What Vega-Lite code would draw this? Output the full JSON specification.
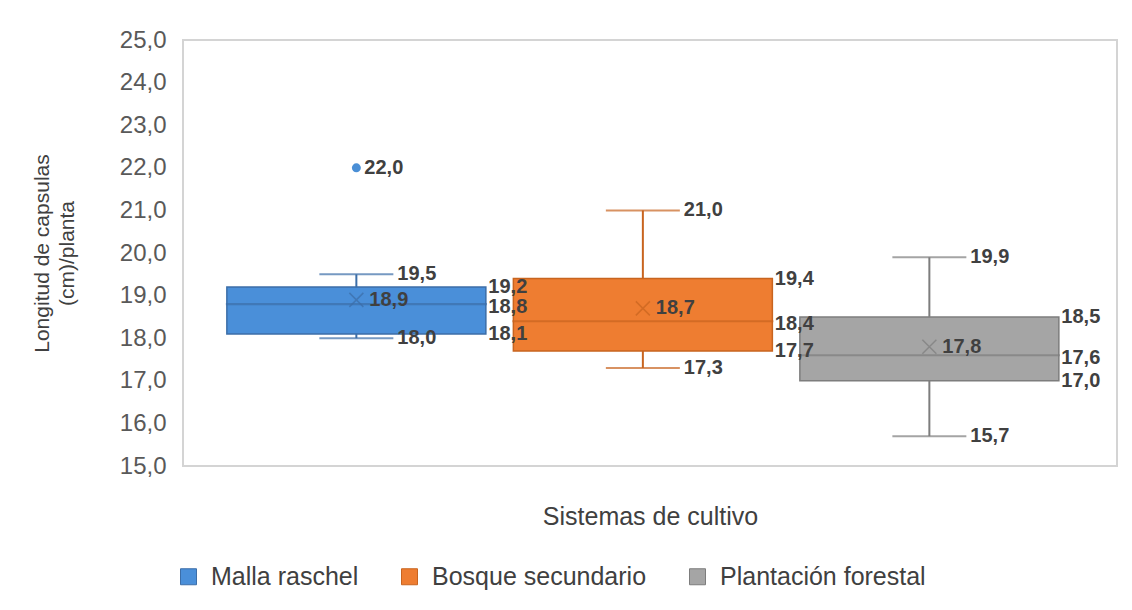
{
  "$schema": "https://vega.github.io/schema/vega-lite/v6.json",
  "autosize": {"type": "none"},
  "width": 934,
  "height": 426,
  "padding": {"left": 183, "top": 40, "right": 15, "bottom": 144},
  "background": "white",
  "config": {
    "locale": {"number": {"decimal": ",", "thousands": ".", "grouping": [3], "currency": ["", " €"]}},
    "font": "Liberation Sans",
    "view": {"stroke": "#d4d4d4", "strokeWidth": 2},
    "axis": {"grid": false, "domain": false, "ticks": false}
  },
  "data": {
    "values": [
      {"sistema": "Malla raschel", "min": 18.0, "q1": 18.1, "median": 18.8, "q3": 19.2, "max": 19.5, "mean": 18.9},
      {"sistema": "Bosque secundario", "min": 17.3, "q1": 17.7, "median": 18.4, "q3": 19.4, "max": 21.0, "mean": 18.7},
      {"sistema": "Plantación forestal", "min": 15.7, "q1": 17.0, "median": 17.6, "q3": 18.5, "max": 19.9, "mean": 17.8}
    ]
  },
  "encoding": {
    "x": {
      "field": "sistema", "type": "nominal",
      "scale": {"type": "band", "domain": ["Malla raschel", "Bosque secundario", "Plantación forestal"], "paddingInner": 0.096, "paddingOuter": 0.178, "align": 0.43},
      "axis": {"labels": false, "title": "Sistemas de cultivo", "titleFontSize": 25, "titleFontWeight": "normal", "titleColor": "#404040", "titlePadding": 38}
    }
  },
  "layer": [
    {
      "mark": {"type": "bar", "strokeWidth": 1.5},
      "encoding": {
        "y": {"field": "q1", "type": "quantitative", "scale": {"domain": [15, 25], "nice": false, "zero": false},
          "axis": {"values": [15, 16, 17, 18, 19, 20, 21, 22, 23, 24, 25], "format": ".1f", "labelFontSize": 24, "labelColor": "#595959", "labelPadding": 17,
            "title": ["Longitud de capsulas", "(cm)/planta"], "titleFontSize": 21, "titleFontWeight": "normal", "titleColor": "#404040", "titlePadding": 42, "titleLineHeight": 25}},
        "y2": {"field": "q3"},
        "fill": {"field": "sistema", "type": "nominal",
          "scale": {"domain": ["Malla raschel", "Bosque secundario", "Plantación forestal"], "range": ["#4a8fd9", "#ee7d31", "#a5a5a5"]},
          "legend": {"title": null, "orient": "none", "legendX": -7, "legendY": 524, "direction": "horizontal", "symbolType": "square", "symbolSize": 256, "symbolStrokeWidth": 1, "labelFontSize": 25, "labelLimit": 400, "labelColor": "#404040", "labelOffset": 10, "columnPadding": 38, "padding": 0}},
        "stroke": {"field": "sistema", "type": "nominal", "scale": {"domain": ["Malla raschel", "Bosque secundario", "Plantación forestal"], "range": ["#3c6ea8", "#c8641f", "#7d7d7d"]}, "legend": null}
      }
    },
    {
      "mark": {"type": "rule", "strokeWidth": 2},
      "encoding": {
        "y": {"field": "min", "type": "quantitative"},
        "y2": {"field": "q1"},
        "stroke": {"field": "sistema", "type": "nominal", "legend": null}
      }
    },
    {
      "mark": {"type": "rule", "strokeWidth": 2},
      "encoding": {
        "y": {"field": "q3", "type": "quantitative"},
        "y2": {"field": "max"},
        "stroke": {"field": "sistema", "type": "nominal", "legend": null}
      }
    },
    {
      "mark": {"type": "tick", "size": 72, "thickness": 0.01, "orient": "horizontal", "filled": false, "strokeWidth": 2},
      "encoding": {
        "y": {"field": "min", "type": "quantitative"},
        "stroke": {"field": "sistema", "type": "nominal", "legend": null}
      }
    },
    {
      "mark": {"type": "tick", "size": 72, "thickness": 0.01, "orient": "horizontal", "filled": false, "strokeWidth": 2},
      "encoding": {
        "y": {"field": "max", "type": "quantitative"},
        "stroke": {"field": "sistema", "type": "nominal", "legend": null}
      }
    },
    {
      "mark": {"type": "tick", "size": 259, "thickness": 0.01, "orient": "horizontal", "filled": false, "strokeWidth": 2},
      "encoding": {
        "y": {"field": "median", "type": "quantitative"},
        "stroke": {"field": "sistema", "type": "nominal", "legend": null}
      }
    },
    {
      "mark": {"type": "point", "shape": "M-1,-1L1,1M-1,1L1,-1", "filled": false, "size": 196, "strokeWidth": 1.5},
      "encoding": {
        "y": {"field": "mean", "type": "quantitative"},
        "stroke": {"field": "sistema", "type": "nominal", "legend": null}
      }
    },
    {
      "data": {"values": [{"sistema": "Malla raschel", "valor": 22.0}]},
      "mark": {"type": "point", "shape": "circle", "filled": true, "size": 80, "color": "#4a8fd6", "opacity": 1},
      "encoding": {
        "y": {"field": "valor", "type": "quantitative"}
      }
    },
    {
      "data": {"values": [{"sistema": "Malla raschel", "valor": 22.0}]},
      "mark": {"type": "text", "align": "left", "baseline": "middle", "dx": 8, "fontSize": 20, "fontWeight": "bold", "color": "#404040"},
      "encoding": {
        "y": {"field": "valor", "type": "quantitative"},
        "text": {"field": "valor", "type": "quantitative", "format": ".1f"}
      }
    },
    {
      "transform": [{"fold": ["q1", "q3"], "as": ["stat", "val"]}],
      "mark": {"type": "text", "align": "left", "baseline": "middle", "dx": 132, "fontSize": 20, "fontWeight": "bold", "color": "#404040"},
      "encoding": {
        "y": {"field": "val", "type": "quantitative"},
        "text": {"field": "val", "type": "quantitative", "format": ".1f"}
      }
    },
    {
      "mark": {"type": "text", "align": "left", "baseline": "middle", "dx": 132, "dy": 3, "fontSize": 20, "fontWeight": "bold", "color": "#404040"},
      "encoding": {
        "y": {"field": "median", "type": "quantitative"},
        "text": {"field": "median", "type": "quantitative", "format": ".1f"}
      }
    },
    {
      "transform": [{"fold": ["min", "max"], "as": ["stat", "val"]}],
      "mark": {"type": "text", "align": "left", "baseline": "middle", "dx": 41, "fontSize": 20, "fontWeight": "bold", "color": "#404040"},
      "encoding": {
        "y": {"field": "val", "type": "quantitative"},
        "text": {"field": "val", "type": "quantitative", "format": ".1f"}
      }
    },
    {
      "mark": {"type": "text", "align": "left", "baseline": "middle", "dx": 13, "fontSize": 20, "fontWeight": "bold", "color": "#404040"},
      "encoding": {
        "y": {"field": "mean", "type": "quantitative"},
        "text": {"field": "mean", "type": "quantitative", "format": ".1f"}
      }
    }
  ]
}
